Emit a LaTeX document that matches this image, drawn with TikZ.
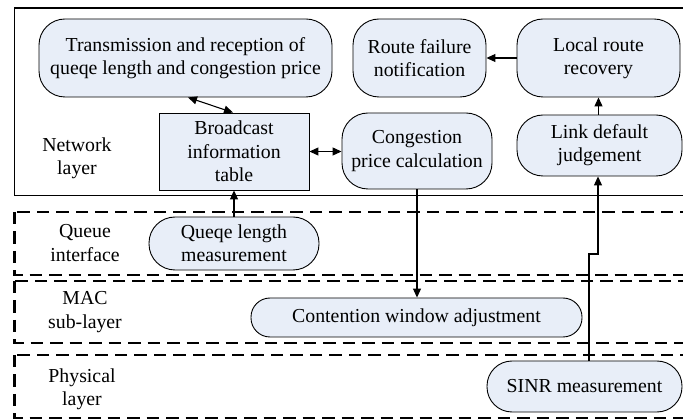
\documentclass[tikz,border=0pt]{standalone}
\usepackage{fontspec}
\setmainfont{Liberation Serif}
\newfontfamily\timesfont{Liberation Serif}
\usetikzlibrary{arrows.meta}
\definecolor{nodefill}{RGB}{232,238,248}
\begin{document}
\begin{tikzpicture}[x=1pt,y=-1pt,
  font=\timesfont\fontsize{19.8}{23.3}\selectfont,
  every node/.style={align=center, inner sep=0pt},
  rbox/.style={draw, fill=nodefill, line width=0.9pt, rounded corners=#1},
  sbox/.style={draw, fill=nodefill, line width=0.9pt},
  layerbox/.style={draw, line width=2.8pt, dash pattern=on 12.5pt off 7pt},
  netbox/.style={draw, line width=1.6pt},
  conn/.style={line width=1.1pt, -{Triangle[length=9pt,width=8pt]}},
  dconn/.style={line width=1.1pt, {Triangle[length=9pt,width=8pt]}-{Triangle[length=9pt,width=8pt]}}]
\useasboundingbox (0,0) rectangle (683,419);
\clip (0,0) rectangle (683,419);
\fill[white] (0,0) rectangle (683,419);
% layers
\draw[layerbox] (14.5,212) rectangle (700,275);
\draw[layerbox] (14.5,281) rectangle (700,343);
\draw[layerbox] (14.5,355) rectangle (700,418);
\draw[netbox] (14.5,8) rectangle (700,195.5);
% labels
\node (netlbl) at (77,158) {Network\\layer};
\node (quelbl) at (85,243) {Queue\\interface};
\node (maclbl) at (85,312) {MAC\\sub-layer};
\node (phylbl) at (82,389) {Physical\\layer};
% nodes
\node[rbox=26pt, minimum width=293pt, minimum height=78pt] (trans) at (185.5,58) {Transmission and reception of\\queqe length and congestion price};
\node[sbox, minimum width=150pt, minimum height=77pt] (bit) at (234,151.5) {Broadcast\\information\\table};
\node[rbox=26pt, minimum width=150pt, minimum height=76pt] (cpc) at (417,151) {Congestion\\price calculation};
\node[rbox=26pt, minimum width=133pt, minimum height=78pt] (rfn) at (419.5,58) {Route failure\\notification};
\node[rbox=26pt, minimum width=163pt, minimum height=78pt] (lrr) at (598.5,58) {Local route\\recovery};
\node[rbox=26pt, minimum width=165pt, minimum height=61pt] (ldj) at (599.5,145.5) {Link default\\judgement};
\node[rbox=26pt, minimum width=170pt, minimum height=53pt] (qlm) at (234,243.5) {Queqe length\\measurement};
\node[rbox=19pt, minimum width=331pt, minimum height=39pt] (cwa) at (416.5,317.5) {Contention window adjustment};
\node[rbox=25pt, minimum width=195pt, minimum height=51pt] (sinr) at (584.5,386.5) {SINR measurement};
\coordinate (kink) at (598,254);
% connectors
\draw[dconn] ([xshift=2.5pt]trans.south) -- ([xshift=-1pt]bit.north);
\draw[dconn] (bit.east) -- (bit.east -| cpc.west);
\draw[conn] (lrr.west) -- (lrr.west -| rfn.east);
\draw[conn] (ldj.north -| lrr.south) -- (lrr.south);
\draw[conn] (qlm.north) -- (bit.south);
\draw[conn] (cpc.south) -- (cwa.north -| cpc.south);
\draw[conn] ([xshift=4.5pt]sinr.north) |- (kink) -- (kink |- ldj.south);
\end{tikzpicture}
\end{document}
